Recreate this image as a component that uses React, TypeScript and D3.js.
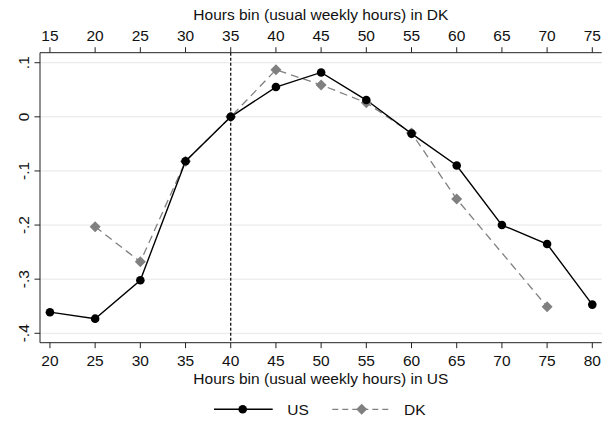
import React from "react";
import * as d3 from "d3";

const usHours = [20, 25, 30, 35, 40, 45, 50, 55, 60, 65, 70, 75, 80];
const usValues = [-0.361, -0.373, -0.302, -0.082, 0, 0.055, 0.082, 0.031, -0.031, -0.09, -0.2, -0.235, -0.347];
const dkHours = [20, 25, 30, 35, 40, 45, 50, 55, 60, 70];
const dkValues = [-0.203, -0.268, -0.082, 0, 0.087, 0.059, 0.026, -0.03, -0.152, -0.351];
const bottomTicks = [20, 25, 30, 35, 40, 45, 50, 55, 60, 65, 70, 75, 80];
const topTicks = [15, 20, 25, 30, 35, 40, 45, 50, 55, 60, 65, 70, 75];
const yTicks = [0.1, 0, -0.1, -0.2, -0.3, -0.4];
const refHourUS = 40;
const dkOffset = 5;

const W = 611;
const H = 421;
const L = 40, R = 601.7, T = 52.7, B = 342.7;
const font = "'Liberation Sans', Arial, Helvetica, sans-serif";
const FS = 15.5;

export default function App() {
  const x = d3.scaleLinear().domain([18.9, 81.04]).range([L, R]);
  const xTop = d3.scaleLinear().domain([18.9 - dkOffset, 81.04 - dkOffset]).range([L, R]);
  const y = d3.scaleLinear().domain([-0.4174, 0.1185]).range([B, T]);
  const fmt = (v: number) => {
    if (Math.abs(v) < 1e-9) return "0";
    const s = Math.abs(v).toFixed(1).replace(/^0/, "");
    return (v < 0 ? "-" : "") + s;
  };
  const usPts: [number, number][] = usHours.map((h, i) => [x(h), y(usValues[i])]);
  const dkPts: [number, number][] = dkHours.map((h, i) => [xTop(h), y(dkValues[i])]);
  const line = d3.line<[number, number]>();
  const diamond = (cx: number, cy: number, r: number) =>
    `M${cx},${cy - r}L${cx + r},${cy}L${cx},${cy + r}L${cx - r},${cy}Z`;
  const gray = "#808080";
  const axisColor = "#222";

  return (
    <svg width={W} height={H} style={{ position: "absolute", left: 0, top: 0, background: "#fff" }} fontFamily={font}>
      <rect x={0} y={0} width={W} height={H} fill="#fff" />
      {yTicks.map((t) => (
        <line key={"g" + t} x1={L} x2={R} y1={y(t)} y2={y(t)} stroke="#e6e6e6" strokeWidth={1} />
      ))}
      <line x1={x(refHourUS)} x2={x(refHourUS)} y1={T} y2={B} stroke="#000" strokeWidth={1.2} strokeDasharray="3,2" />
      {/* axes */}
      <line x1={L} x2={L} y1={T} y2={B} stroke={axisColor} strokeWidth={1} />
      <line x1={L} x2={R} y1={B} y2={B} stroke={axisColor} strokeWidth={1} />
      <line x1={L} x2={R} y1={T} y2={T} stroke={axisColor} strokeWidth={1} />
      {yTicks.map((t) => (
        <g key={"y" + t}>
          <line x1={L - 5.5} x2={L} y1={y(t)} y2={y(t)} stroke={axisColor} strokeWidth={1} />
          <text
            transform={`translate(23,${y(t)}) rotate(-90)`}
            textAnchor="middle"
            dominantBaseline="central"
            fontSize={FS}
            fill="#111"
          >
            {fmt(t)}
          </text>
        </g>
      ))}
      {bottomTicks.map((t) => (
        <g key={"b" + t}>
          <line x1={x(t)} x2={x(t)} y1={B} y2={B + 5.5} stroke={axisColor} strokeWidth={1} />
          <text x={x(t)} y={365.5} textAnchor="middle" fontSize={FS} fill="#111">{t}</text>
        </g>
      ))}
      {topTicks.map((t) => (
        <g key={"t" + t}>
          <line x1={xTop(t)} x2={xTop(t)} y1={T} y2={T - 5.5} stroke={axisColor} strokeWidth={1} />
          <text x={xTop(t)} y={40.5} textAnchor="middle" fontSize={FS} fill="#111">{t}</text>
        </g>
      ))}
      <text x={(L + R) / 2} y={384} textAnchor="middle" fontSize={FS} fill="#111">
        Hours bin (usual weekly hours) in US
      </text>
      <text x={(L + R) / 2} y={19.5} textAnchor="middle" fontSize={FS} fill="#111">
        Hours bin (usual weekly hours) in DK
      </text>
      {/* series */}
      <path d={line(dkPts) ?? ""} fill="none" stroke={gray} strokeWidth={1.3} strokeDasharray="8,5" />
      <path d={line(usPts) ?? ""} fill="none" stroke="#000" strokeWidth={1.4} />
      {dkPts.map(([cx, cy], i) => (
        <path key={"d" + i} d={diamond(cx, cy, 5.5)} fill={gray} />
      ))}
      {usPts.map(([cx, cy], i) => (
        <circle key={"u" + i} cx={cx} cy={cy} r={4.3} fill="#000" />
      ))}
      {/* legend */}
      <line x1={214} x2={272.7} y1={409.3} y2={409.3} stroke="#000" strokeWidth={1.4} />
      <circle cx={242.7} cy={409.3} r={4.3} fill="#000" />
      <text x={287.3} y={414.8} fontSize={FS} fill="#111">US</text>
      <line x1={332.3} x2={390.7} y1={409.3} y2={409.3} stroke={gray} strokeWidth={1.3} strokeDasharray="6,4" />
      <path d={diamond(361.7, 409.3, 5.5)} fill={gray} />
      <text x={404} y={414.8} fontSize={FS} fill="#111">DK</text>
    </svg>
  );
}
